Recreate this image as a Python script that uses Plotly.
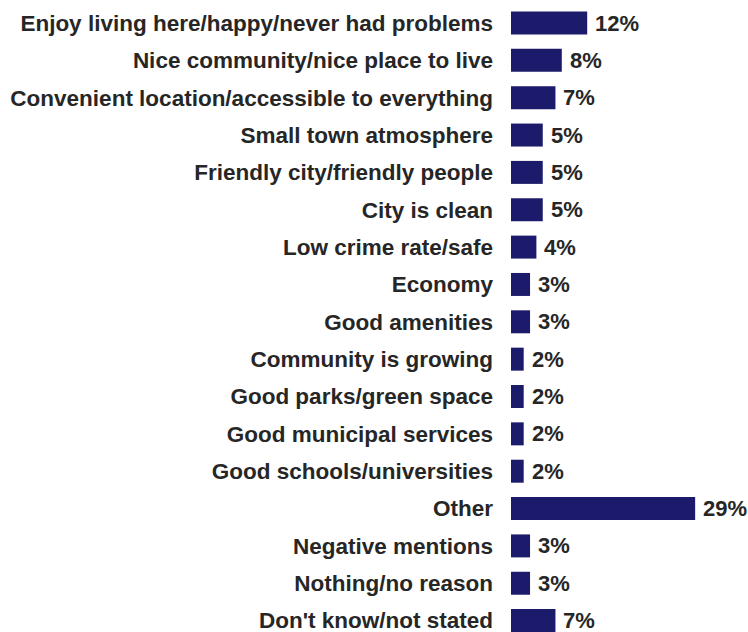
import plotly.graph_objects as go

categories = [
    "Enjoy living here/happy/never had problems",
    "Nice community/nice place to live",
    "Convenient location/accessible to everything",
    "Small town atmosphere",
    "Friendly city/friendly people",
    "City is clean",
    "Low crime rate/safe",
    "Economy",
    "Good amenities",
    "Community is growing",
    "Good parks/green space",
    "Good municipal services",
    "Good schools/universities",
    "Other",
    "Negative mentions",
    "Nothing/no reason",
    "Don't know/not stated",
]
values = [12, 8, 7, 5, 5, 5, 4, 3, 3, 2, 2, 2, 2, 29, 3, 3, 7]
value_labels = [f"{v}%" for v in values]

FONT = "Liberation Sans, Arial, sans-serif"
BAR = "#1c1a6b"
TXT = "#262626"
FS = 22.5
FS_VAL = 22

fig = go.Figure(go.Bar(
    x=values,
    y=categories,
    orientation="h",
    marker=dict(color=BAR, line=dict(width=0)),
    width=0.615,
    hoverinfo="skip",
))

for v, lab, c in zip(values, value_labels, categories):
    fig.add_annotation(
        x=v, y=c, text=lab, showarrow=False,
        xanchor="left", yanchor="middle", xshift=6,
        font=dict(family=FONT, size=FS_VAL, color=TXT, weight="bold"),
    )

ROW0 = 23.0
STEP = 37.35
fig.update_layout(
    width=748, height=632,
    margin=dict(l=511, r=0, t=0, b=0),
    paper_bgcolor="white",
    plot_bgcolor="white",
    showlegend=False,
    xaxis=dict(range=[0, 237 / 6.35], visible=False, fixedrange=True),
    yaxis=dict(
        type="category",
        categoryorder="array",
        categoryarray=categories,
        range=[(632 - ROW0) / STEP, -ROW0 / STEP],
        showgrid=False, zeroline=False, showline=False,
        ticks="",
        ticklabelstandoff=17,
        tickfont=dict(family=FONT, size=FS, color=TXT, weight="bold"),
        automargin=False,
        fixedrange=True,
    ),
    font=dict(family=FONT, size=FS, color=TXT),
)

fig.write_html(
    "out.html",
    config={"displayModeBar": False, "staticPlot": True},
    post_script="document.body.style.margin='0';document.body.style.overflow='hidden';",
)
